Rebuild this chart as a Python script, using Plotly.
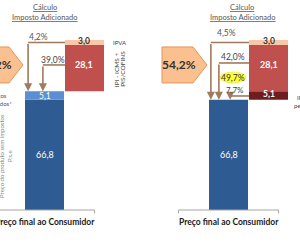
import plotly.graph_objects as go

# ---------------- data ----------------
categoria = "Preço final ao Consumidor"
preco_base = [66.8, 66.8]          # blue bar (left, right)
imposto_extra = [5.1, 5.1]         # left: light blue on top of base / right: dark red at bottom of tax bar
ipi_icms_pis = [28.1, 28.1]        # red
ipva = [3.0, 3.0]                  # peach
pct_left = ["4,2%", "39,0%"]
pct_right = ["4,5%", "42,0%", "7,7%"]
destaque_right = "49,7%"
total_pct = ["43,2%", "54,2%"]

# ---------------- style / layout constants ----------------
FONT = "Lato, Open Sans, sans-serif"
C_BLUE = "#2F5B93"
C_LBLUE = "#5B8ED2"
C_RED = "#C0504D"
C_DRED = "#6E1E1E"
C_PEACH = "#F8C8A8"
C_LINE = "#A07A5C"
C_ARROW_FILL = "#FAC090"
C_ARROW_LINE = "#E0965A"
BW = 0.975
YR = [-24.24, 127.27]
XR = {"x": [-1.1125, 2.6375], "x2": [-1.9625, 1.7875]}
DOM = {"x": [0, 0.5], "x2": [0.5, 1]}


def fmt(v):
    return f"{v:.1f}".replace(".", ",")


def to_paper(xr, x):
    r, d = XR[xr], DOM[xr]
    return d[0] + (x - r[0]) / (r[1] - r[0]) * (d[1] - d[0])


fig = go.Figure()


def bar(xref, x, v, base, color):
    fig.add_trace(go.Bar(x=[x], y=[v], base=[base], width=BW, marker_color=color,
                         marker_line_width=0, xaxis=xref, yaxis=xref.replace("x", "y"),
                         hoverinfo="skip", showlegend=False))


ann = []
shapes = []


def text(xr, x, y, t, size=8, color="#444", bold=False, angle=0, xanchor="center"):
    ann.append(dict(xref="paper", yref=xr.replace("x", "y"), x=to_paper(xr, x), y=y,
                    text=f"<b>{t}</b>" if bold else t,
                    showarrow=False, textangle=angle, xanchor=xanchor, yanchor="middle",
                    font=dict(family=FONT, size=size, color=color)))


def bracket(xr, xa, ylev, ytarget):
    yr = xr.replace("x", "y")
    shapes.append(dict(type="line", xref=xr, yref=yr, x0=1 - BW / 2, x1=xa, y0=ylev, y1=ylev,
                       line=dict(color=C_LINE, width=1.6)))
    ann.append(dict(xref=xr, yref=yr, axref=xr, ayref=yr, x=xa, y=ytarget, ax=xa, ay=ylev,
                    text="", showarrow=True, arrowhead=2, arrowsize=1, arrowwidth=1.6,
                    arrowcolor=C_LINE, standoff=0, startstandoff=0))


def pentagon(xr, label):
    yr = xr.replace("x", "y")
    x0, x1, xt = -1.6625, -0.8875, -0.5375
    y0, y1, ym = 77.0, 98.8, 87.9
    shapes.append(dict(type="path", xref=xr, yref=yr,
                       path=f"M {x0} {y0} L {x0} {y1} L {x1} {y1} L {xt} {ym} L {x1} {y0} Z",
                       fillcolor=C_ARROW_FILL, line=dict(color=C_ARROW_LINE, width=1)))
    text(xr, -1.25, ym, label, size=12, color="#333", bold=True)


def axisline(xr):
    yr = xr.replace("x", "y")
    shapes.append(dict(type="line", xref=xr, yref=yr, x0=-1.25, x1=1.25, y0=0, y1=0,
                       line=dict(color="#A6A6A6", width=1)))
    for xe in (-1.25, 1.25):
        shapes.append(dict(type="line", xref=xr, yref=yr, x0=xe, x1=xe, y0=0, y1=-2,
                           line=dict(color="#A6A6A6", width=1)))
    text(xr, 0.02, -7.3, categoria, size=8.5, color="#1a1a1a", bold=True)


# ---------- left panel ----------
xl = "x"
bar(xl, 0, preco_base[0], 0, C_BLUE)
bar(xl, 0, imposto_extra[0], preco_base[0], C_LBLUE)
top_l = preco_base[0] + imposto_extra[0]
bar(xl, 1, ipi_icms_pis[0], top_l, C_RED)
bar(xl, 1, ipva[0], top_l + ipi_icms_pis[0], C_PEACH)

text(xl, 0, preco_base[0] / 2, fmt(preco_base[0]), size=9, color="white")
text(xl, 0, preco_base[0] + imposto_extra[0] / 2, fmt(imposto_extra[0]), size=8.5, color="white")
text(xl, 1, top_l + ipi_icms_pis[0] / 2 + 2, fmt(ipi_icms_pis[0]), size=9, color="white", bold=True)
text(xl, 1, top_l + ipi_icms_pis[0] + ipva[0] / 2 + 0.7, fmt(ipva[0]), size=8.5, color="#333", bold=True)

bracket(xl, -0.41, 101.5, top_l)
bracket(xl, -0.04, 87.9, top_l)
text(xl, -0.14, 104.8, pct_left[0], size=8.5, color="#555")
text(xl, 0.21, 90.9, pct_left[1], size=8.5, color="#444")

pentagon(xl, total_pct[0])
text(xl, -1.24, 66.7, "Impostos<br>Adicionados*", size=6, color="#555")
text(xl, -0.99, 32.7, "Preço do produto sem impostos<br>P.s.e", size=6, color="#888", angle=-90)

text(xl, 1.66, 101.8, "IPVA", size=6, color="#444", xanchor="left")
text(xl, 1.79, 84.8, "IPI - ICMS +", size=6.5, color="#444", angle=-90)
text(xl, 1.96, 85.5, "PIS/COFINS", size=6.5, color="#444", angle=-90)

text(xl, 0.0, 122.8, "<u>Cálculo</u>", size=7.5, color="#555")
text(xl, 0.0, 116.7, "<u>Imposto Adicionado</u>", size=7.5, color="#555")
axisline(xl)

# ---------- right panel ----------
xr = "x2"
bar(xr, 0, preco_base[1], 0, C_BLUE)
bar(xr, 1, imposto_extra[1], preco_base[1], C_DRED)
top_r = preco_base[1] + imposto_extra[1]
bar(xr, 1, ipi_icms_pis[1], top_r, C_RED)
bar(xr, 1, ipva[1], top_r + ipi_icms_pis[1], C_PEACH)

text(xr, 0, preco_base[1] / 2, fmt(preco_base[1]), size=9, color="white")
text(xr, 1, preco_base[1] + imposto_extra[1] / 2 + 1, fmt(imposto_extra[1]), size=8.5, color="white", bold=True)
text(xr, 1, top_r + ipi_icms_pis[1] / 2 + 2, fmt(ipi_icms_pis[1]), size=9, color="white", bold=True)
text(xr, 1, top_r + ipi_icms_pis[1] + ipva[1] / 2 + 0.7, fmt(ipva[1]), size=8.5, color="#333", bold=True)

bracket(xr, -0.44, 101.5, preco_base[1])
bracket(xr, -0.24, 89.1, preco_base[1])
bracket(xr, 0.04, 69.1, preco_base[1])

shapes.append(dict(type="circle", xref=xr, yref="y2", x0=-0.2125, x1=0.4375, y0=77.0, y1=83.6,
                   fillcolor="#FFFF33", line=dict(color="#F0F060", width=1)))
text(xr, -0.04, 107.3, pct_right[0], size=8.5, color="#555")
text(xr, 0.11, 92.7, pct_right[1], size=8.5, color="#444")
text(xr, 0.11, 80.3, destaque_right, size=8.5, color="#333")
text(xr, 0.16, 72.7, pct_right[2], size=8, color="#444")

pentagon(xr, total_pct[1])
text(xr, 1.66, 68.2, "IPI", size=6, color="#444", xanchor="left")
text(xr, 1.58, 63.6, "percentual", size=6, color="#444", xanchor="left")

text(xr, 0.33, 122.8, "<u>Cálculo</u>", size=7.5, color="#555")
text(xr, 0.35, 116.7, "<u>Imposto Adicionado</u>", size=7.5, color="#555")
axisline(xr)

fig.update_layout(
    width=300, height=250, margin=dict(l=0, r=0, t=0, b=0),
    paper_bgcolor="white", plot_bgcolor="white", barmode="overlay", showlegend=False,
    xaxis=dict(domain=DOM["x"], range=XR["x"], visible=False, fixedrange=True),
    yaxis=dict(domain=[0, 1], range=YR, visible=False, fixedrange=True),
    xaxis2=dict(domain=DOM["x2"], range=XR["x2"], visible=False, fixedrange=True),
    yaxis2=dict(domain=[0, 1], range=YR, visible=False, anchor="x2", fixedrange=True),
    shapes=shapes, annotations=ann,
)

fig.write_html("out.html")
